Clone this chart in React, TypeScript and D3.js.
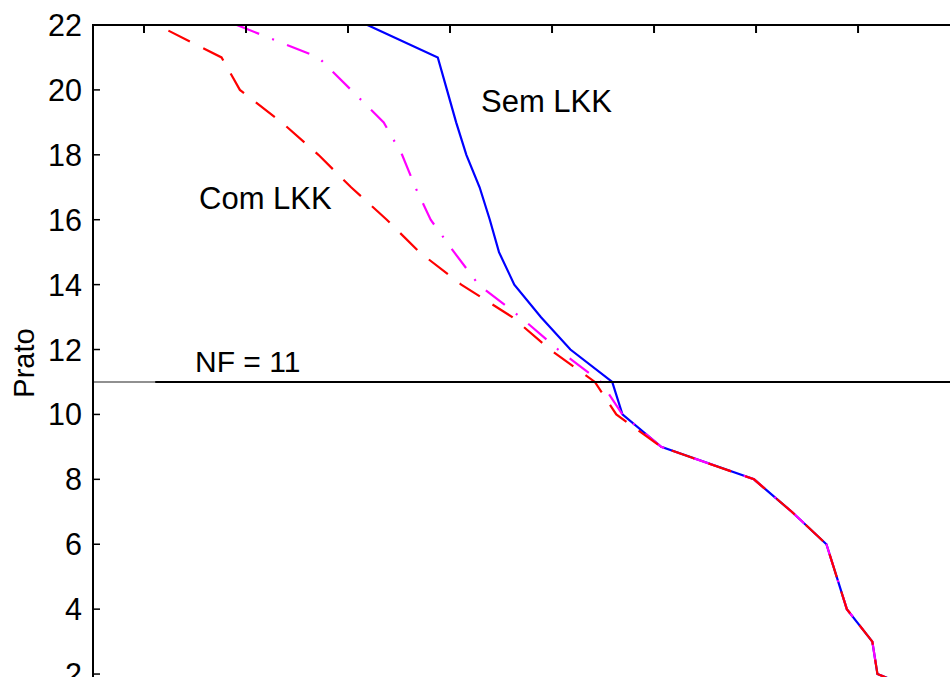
import React from "react";
import * as d3 from "d3";

// Plate number (top of column = 22) for each profile point
const plates = [22, 21, 20, 19, 18, 17, 16, 15, 14, 13, 12, 11, 10, 9, 8, 7, 6, 5, 4, 3, 2, 1];

// Horizontal position of each profile, per plate
const semLKK = [3.19, 3.88, 3.97, 4.06, 4.16, 4.29, 4.39, 4.48, 4.63, 4.89, 5.18, 5.59, 5.69, 6.07, 6.98, 7.35, 7.69, 7.79, 7.89, 8.14, 8.19, 9.0];
const intermedio = [1.91, 2.71, 3.03, 3.35, 3.53, 3.66, 3.81, 4.04, 4.28, 4.69, 5.06, 5.48, 5.69, 6.07, 6.98, 7.35, 7.69, 7.79, 7.89, 8.14, 8.19, 9.0];
const comLKK = [1.13, 1.76, 1.94, 2.35, 2.71, 3.03, 3.38, 3.7, 4.11, 4.61, 4.98, 5.42, 5.63, 6.07, 6.98, 7.35, 7.69, 7.79, 7.89, 8.14, 8.19, 9.0];

const yTicks = [2, 4, 6, 8, 10, 12, 14, 16, 18, 20, 22];
const xTicks = [1, 2, 3, 4, 5, 6, 7, 8];
const feedPlate = 11;
const feedLabel = "NF = 11";
const feedLineStart = 1.11;

const W = 950;
const H = 677;
const left = 93;
const right = 957;
const top = 25;
const bottom = 706.5;

const FONT = "Arial, 'Liberation Sans', Helvetica, sans-serif";

export default function App() {
  const x = d3.scaleLinear().domain([0.5, 8.97]).range([left, right]);
  const y = d3.scaleLinear().domain([1, 22]).range([bottom, top]);

  const line = d3
    .line<number>()
    .x((d) => x(d))
    .y((_, i) => y(plates[i]));

  const series = [
    { values: semLKK, color: "#0000ff", dash: undefined as string | undefined, offset: 0 },
    { values: intermedio, color: "#ff00ff", dash: "24 14 2 14", offset: 0 },
    { values: comLKK, color: "#ff0000", dash: "24 15", offset: 26.5 },
  ];

  return (
    <svg
      width={W}
      height={H}
      style={{ position: "fixed", left: 0, top: 0, background: "#fff" }}
      fontFamily={FONT}
    >
      <defs>
        <clipPath id="plot-area">
          <rect x={left} y={top} width={right - left} height={bottom + 40 - top} />
        </clipPath>
      </defs>

      <g clipPath="url(#plot-area)">
        {series.map((s, k) => (
          <path
            key={k}
            d={line(s.values) ?? ""}
            fill="none"
            stroke={s.color}
            strokeWidth={2.2}
            strokeDasharray={s.dash}
            strokeDashoffset={s.offset}
            strokeLinejoin="miter"
          />
        ))}
        {/* feed plate marker */}
        <line x1={left} x2={right} y1={y(feedPlate)} y2={y(feedPlate)} stroke="#222" strokeWidth={1.2} />
        <line x1={x(feedLineStart)} x2={right} y1={y(feedPlate)} y2={y(feedPlate)} stroke="#000" strokeWidth={2} />
      </g>

      {/* axes box */}
      <line x1={left} x2={left} y1={top} y2={H + 10} stroke="#000" strokeWidth={2} />
      <line x1={left - 1} x2={right} y1={top} y2={top} stroke="#000" strokeWidth={2} />
      <line x1={right} x2={right} y1={top} y2={H + 10} stroke="#000" strokeWidth={2} />

      {yTicks.map((t) => (
        <g key={"y" + t}>
          <line x1={left} x2={left + 7} y1={y(t)} y2={y(t)} stroke="#000" strokeWidth={1.5} />
          <line x1={right - 7} x2={right} y1={y(t)} y2={y(t)} stroke="#000" strokeWidth={1.5} />
          <text x={82} y={y(t) + 11} fontSize={30.5} textAnchor="end" fill="#000">
            {t}
          </text>
        </g>
      ))}

      {xTicks.map((t) => (
        <line key={"x" + t} x1={x(t)} x2={x(t)} y1={top} y2={top + 8} stroke="#000" strokeWidth={2} />
      ))}

      <text
        transform={`translate(34, ${363}) rotate(-90)`}
        fontSize={29}
        textAnchor="middle"
        fill="#000"
      >
        Prato
      </text>

      <text x={481} y={112} fontSize={31} fill="#000">
        Sem LKK
      </text>
      <text x={199} y={209} fontSize={31} fill="#000">
        Com LKK
      </text>
      <text x={195} y={372} fontSize={30} fill="#000">
        {feedLabel}
      </text>
    </svg>
  );
}
